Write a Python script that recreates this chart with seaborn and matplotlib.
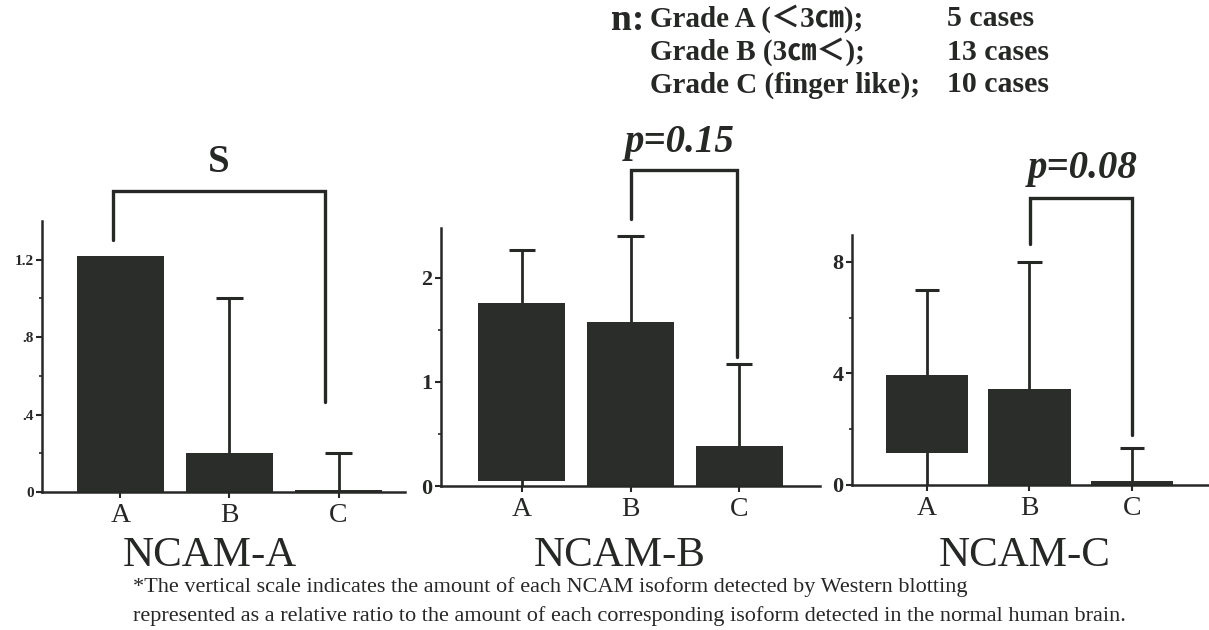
import numpy as np
import matplotlib
matplotlib.use("Agg")
import matplotlib.pyplot as plt
import seaborn as sns

# ---- data -------------------------------------------------------------
grades = ["A", "B", "C"]

ncam_a_top = [1.22, 0.20, 0.012]
ncam_a_base = [0.0, 0.0, 0.0]
ncam_a_err = [np.nan, 1.00, 0.20]

ncam_b_top = [1.76, 1.58, 0.38]
ncam_b_base = [0.05, 0.0, 0.0]
ncam_b_err = [2.27, 2.40, 1.17]

ncam_c_top = [3.95, 3.43, 0.15]
ncam_c_base = [1.16, 0.0, 0.0]
ncam_c_err = [7.0, 8.0, 1.34]

panel_names = ["NCAM-A", "NCAM-B", "NCAM-C"]

ncam_a_ticks = [0, 0.4, 0.8, 1.2]
ncam_a_ticklabels = ["0", ".4", ".8", "1.2"]
ncam_b_ticks = [0, 1, 2]
ncam_b_ticklabels = ["0", "1", "2"]
ncam_c_ticks = [0, 4, 8]
ncam_c_ticklabels = ["0", "4", "8"]

# significance brackets: left x, right x, top y, left end, right end, label
ncam_a_bracket = (-0.065, 1.88, 1.557, 1.30, 0.465, "S")
ncam_b_bracket = (1.0, 1.98, 3.04, 2.57, 1.24, "p=0.15")
ncam_c_bracket = (1.005, 2.0, 10.3, 8.64, 1.79, "p=0.08")

group_labels = ["Grade A (\uff1c3\u339d);", "Grade B (3\u339d\uff1c);", "Grade C (finger like);"]
group_counts = ["5 cases", "13 cases", "10 cases"]

footnote = [
    "*The vertical scale indicates the amount of each NCAM isoform detected by Western blotting",
    "represented as a relative ratio to the amount of each corresponding isoform detected in the normal human brain.",
]

# ---- style ------------------------------------------------------------
sns.set_style("white")
plt.rcParams["font.family"] = ["Liberation Serif", "Noto Sans CJK JP", "DejaVu Sans"]

W, H = 1209, 630
INK = "#262826"
BAR = "#2a2d2a"

fig = plt.figure(figsize=(W / 100, H / 100), dpi=100)
fig.patch.set_facecolor("white")


def fx(px):
    return px / W


def fy(py):
    return 1 - py / H


panels = [
    dict(top=ncam_a_top, base=ncam_a_base, err=ncam_a_err,
         ticks=ncam_a_ticks, labels=ncam_a_ticklabels,
         minor=[0.2, 0.6, 1.0], box=(42, 405, 221, 492),
         xlim=(-0.72, 2.61), ylim=(0, 1.40), tick_size=11,
         bracket=ncam_a_bracket, blabel_xy=(0.90, 1.70),
         blabel_style=dict(fontsize=28, fontweight="bold"),
         title_x=210),
    dict(top=ncam_b_top, base=ncam_b_base, err=ncam_b_err,
         ticks=ncam_b_ticks, labels=ncam_b_ticklabels,
         minor=[0.5, 1.5], box=(441, 820, 228, 486),
         xlim=(-0.74, 2.74), ylim=(0, 2.48), tick_size=16,
         bracket=ncam_b_bracket, blabel_xy=(1.45, 3.30),
         blabel_style=dict(fontsize=28, fontweight="bold", fontstyle="italic"),
         title_x=620),
    dict(top=ncam_c_top, base=ncam_c_base, err=ncam_c_err,
         ticks=ncam_c_ticks, labels=ncam_c_ticklabels,
         minor=[2, 6], box=(852, 1209, 235, 485),
         xlim=(-0.73, 2.75), ylim=(0, 8.96), tick_size=16,
         bracket=ncam_c_bracket, blabel_xy=(1.52, 11.35),
         blabel_style=dict(fontsize=28, fontweight="bold", fontstyle="italic"),
         title_x=1025),
]

for name, p in zip(panel_names, panels):
    l, r, t, b = p["box"]
    ax = fig.add_axes([fx(l), fy(b), fx(r - l), (b - t) / H])
    ax.set_facecolor("none")

    # error whiskers from the baseline up to the cap, behind the bars
    xs = np.arange(len(grades))
    err = np.asarray(p["err"], dtype=float)
    ok = ~np.isnan(err)
    ax.vlines(xs[ok], 0, err[ok], color=INK, lw=2.0, zorder=1)
    ax.hlines(err[ok], xs[ok] - 0.12, xs[ok] + 0.12, color=INK, lw=2.2, zorder=1)

    sns.barplot(x=grades, y=p["top"], ax=ax, color=BAR, saturation=1,
                width=0.8, errorbar=None, linewidth=0, zorder=2)
    for patch, top, base in zip(ax.patches, p["top"], p["base"]):
        patch.set_y(base)
        patch.set_height(top - base)

    ax.set_xlim(*p["xlim"])
    ax.set_ylim(*p["ylim"])

    for side in ("top", "right"):
        ax.spines[side].set_visible(False)
    for side in ("left", "bottom"):
        ax.spines[side].set_color(INK)
        ax.spines[side].set_linewidth(1.8)

    ax.set_yticks(p["ticks"])
    ax.set_yticklabels(p["labels"], fontsize=p["tick_size"], fontweight="bold", color=INK)
    ax.set_yticks(p["minor"], minor=True)
    ax.tick_params(axis="y", which="major", direction="out", length=4, width=1.5,
                   color=INK, pad=2, left=True)
    ax.tick_params(axis="y", which="minor", direction="out", length=2.5, width=1.2,
                   color=INK, left=True)
    ax.set_xticks(xs)
    ax.set_xticklabels(grades, fontsize=20, color=INK)
    ax.tick_params(axis="x", direction="out", length=4, width=1.5, color=INK,
                   pad=4, bottom=True)
    ax.set_xlabel("")
    ax.set_ylabel("")

    bl, br, btop, bleft, bright, blab = p["bracket"]
    ax.plot([bl, bl, br, br], [bleft, btop, btop, bright], color=INK, lw=2.4,
            clip_on=False, solid_joinstyle="miter", zorder=3)
    ax.text(*p["blabel_xy"], blab, ha="center", va="center", color=INK,
            clip_on=False, **p["blabel_style"])

    fig.text(fx(p["title_x"]), fy(556), name, ha="center", va="center",
             fontsize=31, color=INK)

# group sizes block
fig.text(fx(611), fy(20), "n:", ha="left", va="center", fontsize=27,
         fontweight="bold", color=INK)
for i, (lab, cnt) in enumerate(zip(group_labels, group_counts)):
    y = [19, 52, 85][i]
    fig.text(fx(650), fy(y), lab, ha="left", va="center", fontsize=21,
             fontweight="bold", color=INK)
    fig.text(fx(947), fy(y), cnt, ha="left", va="center", fontsize=21.5,
             fontweight="bold", color=INK)

# footnote
for i, line in enumerate(footnote):
    fig.text(fx(133), fy([587, 616][i]), line, ha="left", va="center",
             fontsize=16, color=INK)

fig.savefig("out.png", dpi=100, facecolor="white")
